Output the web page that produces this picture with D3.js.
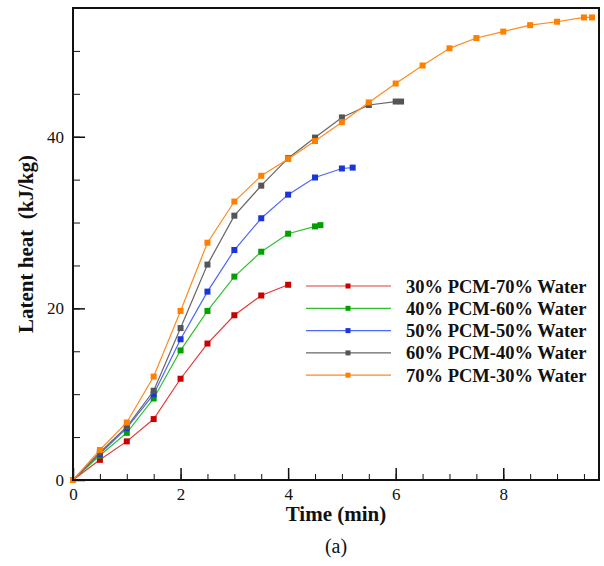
<!DOCTYPE html>
<html>
<head>
<meta charset="utf-8">
<script src="https://cdn.jsdelivr.net/npm/d3@7"></script>
<style>
    body { margin: 0; background: #fff; }
    #chart { width: 604px; height: 566px; }
    text { font-family: "Liberation Serif", "Times New Roman", serif; }
</style>
</head>
<body>
<div id="chart"></div>
<script>

// series names
const seriesNames = [
    "30% PCM-70% Water", "40% PCM-60% Water", "50% PCM-50% Water",
    "60% PCM-40% Water", "70% PCM-30% Water"
];

// time (min) and latent heat (kJ/kg)
const time30 = [0, 0.5, 1, 1.5, 2, 2.5, 3, 3.5, 4];
const heat30 = [0, 2.35, 4.5, 7.1, 11.8, 15.9, 19.2, 21.5, 22.75];

const time40 = [0, 0.5, 1, 1.5, 2, 2.5, 3, 3.5, 4, 4.5, 4.6];
const heat40 = [0, 2.85, 5.5, 9.5, 15.1, 19.7, 23.7, 26.6, 28.7, 29.55, 29.7];

const time50 = [0, 0.5, 1, 1.5, 2, 2.5, 3, 3.5, 4, 4.5, 5, 5.2];
const heat50 = [0, 3.05, 6.05, 10.0, 16.4, 21.95, 26.8, 30.5, 33.25, 35.25, 36.3, 36.4];

const time60 = [0, 0.5, 1, 1.5, 2, 2.5, 3, 3.5, 4, 4.5, 5, 5.5, 6, 6.1];
const heat60 = [0, 3.2, 6.2, 10.4, 17.7, 25.1, 30.8, 34.3, 37.5, 39.9, 42.25, 43.7, 44.1, 44.1];

const time70 = [0, 0.5, 1, 1.5, 2, 2.5, 3, 3.5, 4, 4.5, 5, 5.5, 6, 6.5, 7, 7.5, 8, 8.5, 9, 9.5, 9.65];
const heat70 = [0, 3.5, 6.7, 12.05, 19.7, 27.65, 32.45, 35.45, 37.4, 39.5, 41.7, 44.0, 46.2, 48.3, 50.3, 51.5, 52.25, 53.0, 53.4, 53.9, 53.9];

// tick values
const xMajorTicks = [0, 2, 4, 6, 8];
const yMajorTicks = [0, 20, 40];

const lineColors   = ["#e23a3a", "#33c033", "#4d66ff", "#666666", "#ff8a1f"];
const markerColors = ["#c80000", "#00a000", "#1a35d8", "#555555", "#ff7f00"];

let vis = {};
vis.margin = {top: 8, right: 5, bottom: 86, left: 73};
vis.width = 604 - vis.margin.left - vis.margin.right;
vis.height = 566 - vis.margin.top - vis.margin.bottom;

vis.svg = d3.select("#chart").append("svg")
    .attr("width", 604)
    .attr("height", 566)
    .append("g")
    .attr("transform", "translate(" + vis.margin.left + "," + vis.margin.top + ")");

vis.x = d3.scaleLinear().domain([0, 9.78]).range([0, vis.width]);
vis.y = d3.scaleLinear().domain([0, 55]).range([vis.height, 0]);

let allSeries = [
    [time30, heat30], [time40, heat40], [time50, heat50],
    [time60, heat60], [time70, heat70]
].map((s, i) => ({
    name: seriesNames[i],
    points: s[0].map((t, j) => ({t: t, v: s[1][j]}))
}));

// minor ticks (inward)
let xMinor = d3.axisBottom(vis.x).tickValues(d3.range(0.5, 9.6, 0.5))
    .tickSizeInner(-6).tickSizeOuter(0).tickFormat("");
vis.svg.append("g")
    .attr("transform", "translate(0," + vis.height + ")")
    .call(xMinor)
    .call(g => g.select(".domain").remove());

let yMinor = d3.axisLeft(vis.y).tickValues(d3.range(5, 55, 5))
    .tickSizeInner(-7).tickSizeOuter(0).tickFormat("");
vis.svg.append("g")
    .call(yMinor)
    .call(g => g.select(".domain").remove());

// major ticks
let xAxis = d3.axisBottom(vis.x).tickValues(xMajorTicks)
    .tickSizeInner(-12).tickSizeOuter(0).tickPadding(8);
vis.svg.append("g")
    .attr("class", "x-axis axis")
    .attr("transform", "translate(0," + vis.height + ")")
    .call(xAxis)
    .call(g => g.select(".domain").remove())
    .call(g => g.selectAll("line").attr("stroke-width", 1.5))
    .call(g => g.selectAll("text")
        .attr("font-size", 17).attr("fill", "#111")
        .attr("font-family", "Liberation Serif"));

let yAxis = d3.axisLeft(vis.y).tickValues(yMajorTicks)
    .tickSizeInner(-12).tickSizeOuter(0).tickPadding(9);
vis.svg.append("g")
    .attr("class", "y-axis axis")
    .call(yAxis)
    .call(g => g.select(".domain").remove())
    .call(g => g.selectAll("line").attr("stroke-width", 1.5))
    .call(g => g.selectAll("text")
        .attr("font-size", 17).attr("fill", "#111")
        .attr("font-family", "Liberation Serif"));

vis.svg.selectAll(".tick line").attr("stroke", "#111");

// series lines
let line = d3.line().x(d => vis.x(d.t)).y(d => vis.y(d.v));

allSeries.forEach((s, i) => {
    vis.svg.append("path")
        .datum(s.points)
        .attr("fill", "none")
        .attr("stroke", lineColors[i])
        .attr("stroke-width", 1.2)
        .attr("d", line);

    vis.svg.selectAll(".m" + i)
        .data(s.points)
        .enter().append("rect")
        .attr("class", "m" + i)
        .attr("x", d => vis.x(d.t) - 3)
        .attr("y", d => vis.y(d.v) - 3)
        .attr("width", 6)
        .attr("height", 6)
        .attr("fill", markerColors[i]);
});

// frame
vis.svg.append("rect")
    .attr("x", 0).attr("y", 0)
    .attr("width", vis.width).attr("height", vis.height)
    .attr("fill", "none")
    .attr("stroke", "#111")
    .attr("stroke-width", 2);

// legend
let legend = vis.svg.append("g")
    .attr("transform", "translate(" + (306 - vis.margin.left) + "," + (286 - vis.margin.top) + ")");

seriesNames.forEach((name, i) => {
    let row = legend.append("g").attr("transform", "translate(0," + (i * 22.3) + ")");
    row.append("line")
        .attr("x1", 0).attr("x2", 85)
        .attr("stroke", lineColors[i]).attr("stroke-width", 1.2);
    row.append("rect")
        .attr("x", 42 - 2.5).attr("y", -2.5)
        .attr("width", 5).attr("height", 5)
        .attr("fill", markerColors[i]);
    row.append("text")
        .attr("x", 100).attr("y", 6.5)
        .attr("font-size", 18.5).attr("font-weight", "bold")
        .attr("fill", "#111")
        .text(name);
});

// axis labels
vis.svg.append("text")
    .attr("text-anchor", "middle")
    .attr("x", vis.width / 2)
    .attr("y", vis.height + 41)
    .attr("font-size", 21).attr("font-weight", "bold").attr("fill", "#111")
    .text("Time (min)");

vis.svg.append("text")
    .attr("text-anchor", "middle")
    .attr("transform", "translate(" + (33 - vis.margin.left) + "," + (vis.height / 2) + ") rotate(-90)")
    .attr("font-size", 21).attr("font-weight", "bold").attr("fill", "#111")
    .style("white-space", "pre")
    .text("Latent heat  (kJ/kg)");

vis.svg.append("text")
    .attr("text-anchor", "middle")
    .attr("x", vis.width / 2)
    .attr("y", vis.height + 73)
    .attr("font-size", 20).attr("fill", "#111")
    .text("(a)");

</script>
</body>
</html>
